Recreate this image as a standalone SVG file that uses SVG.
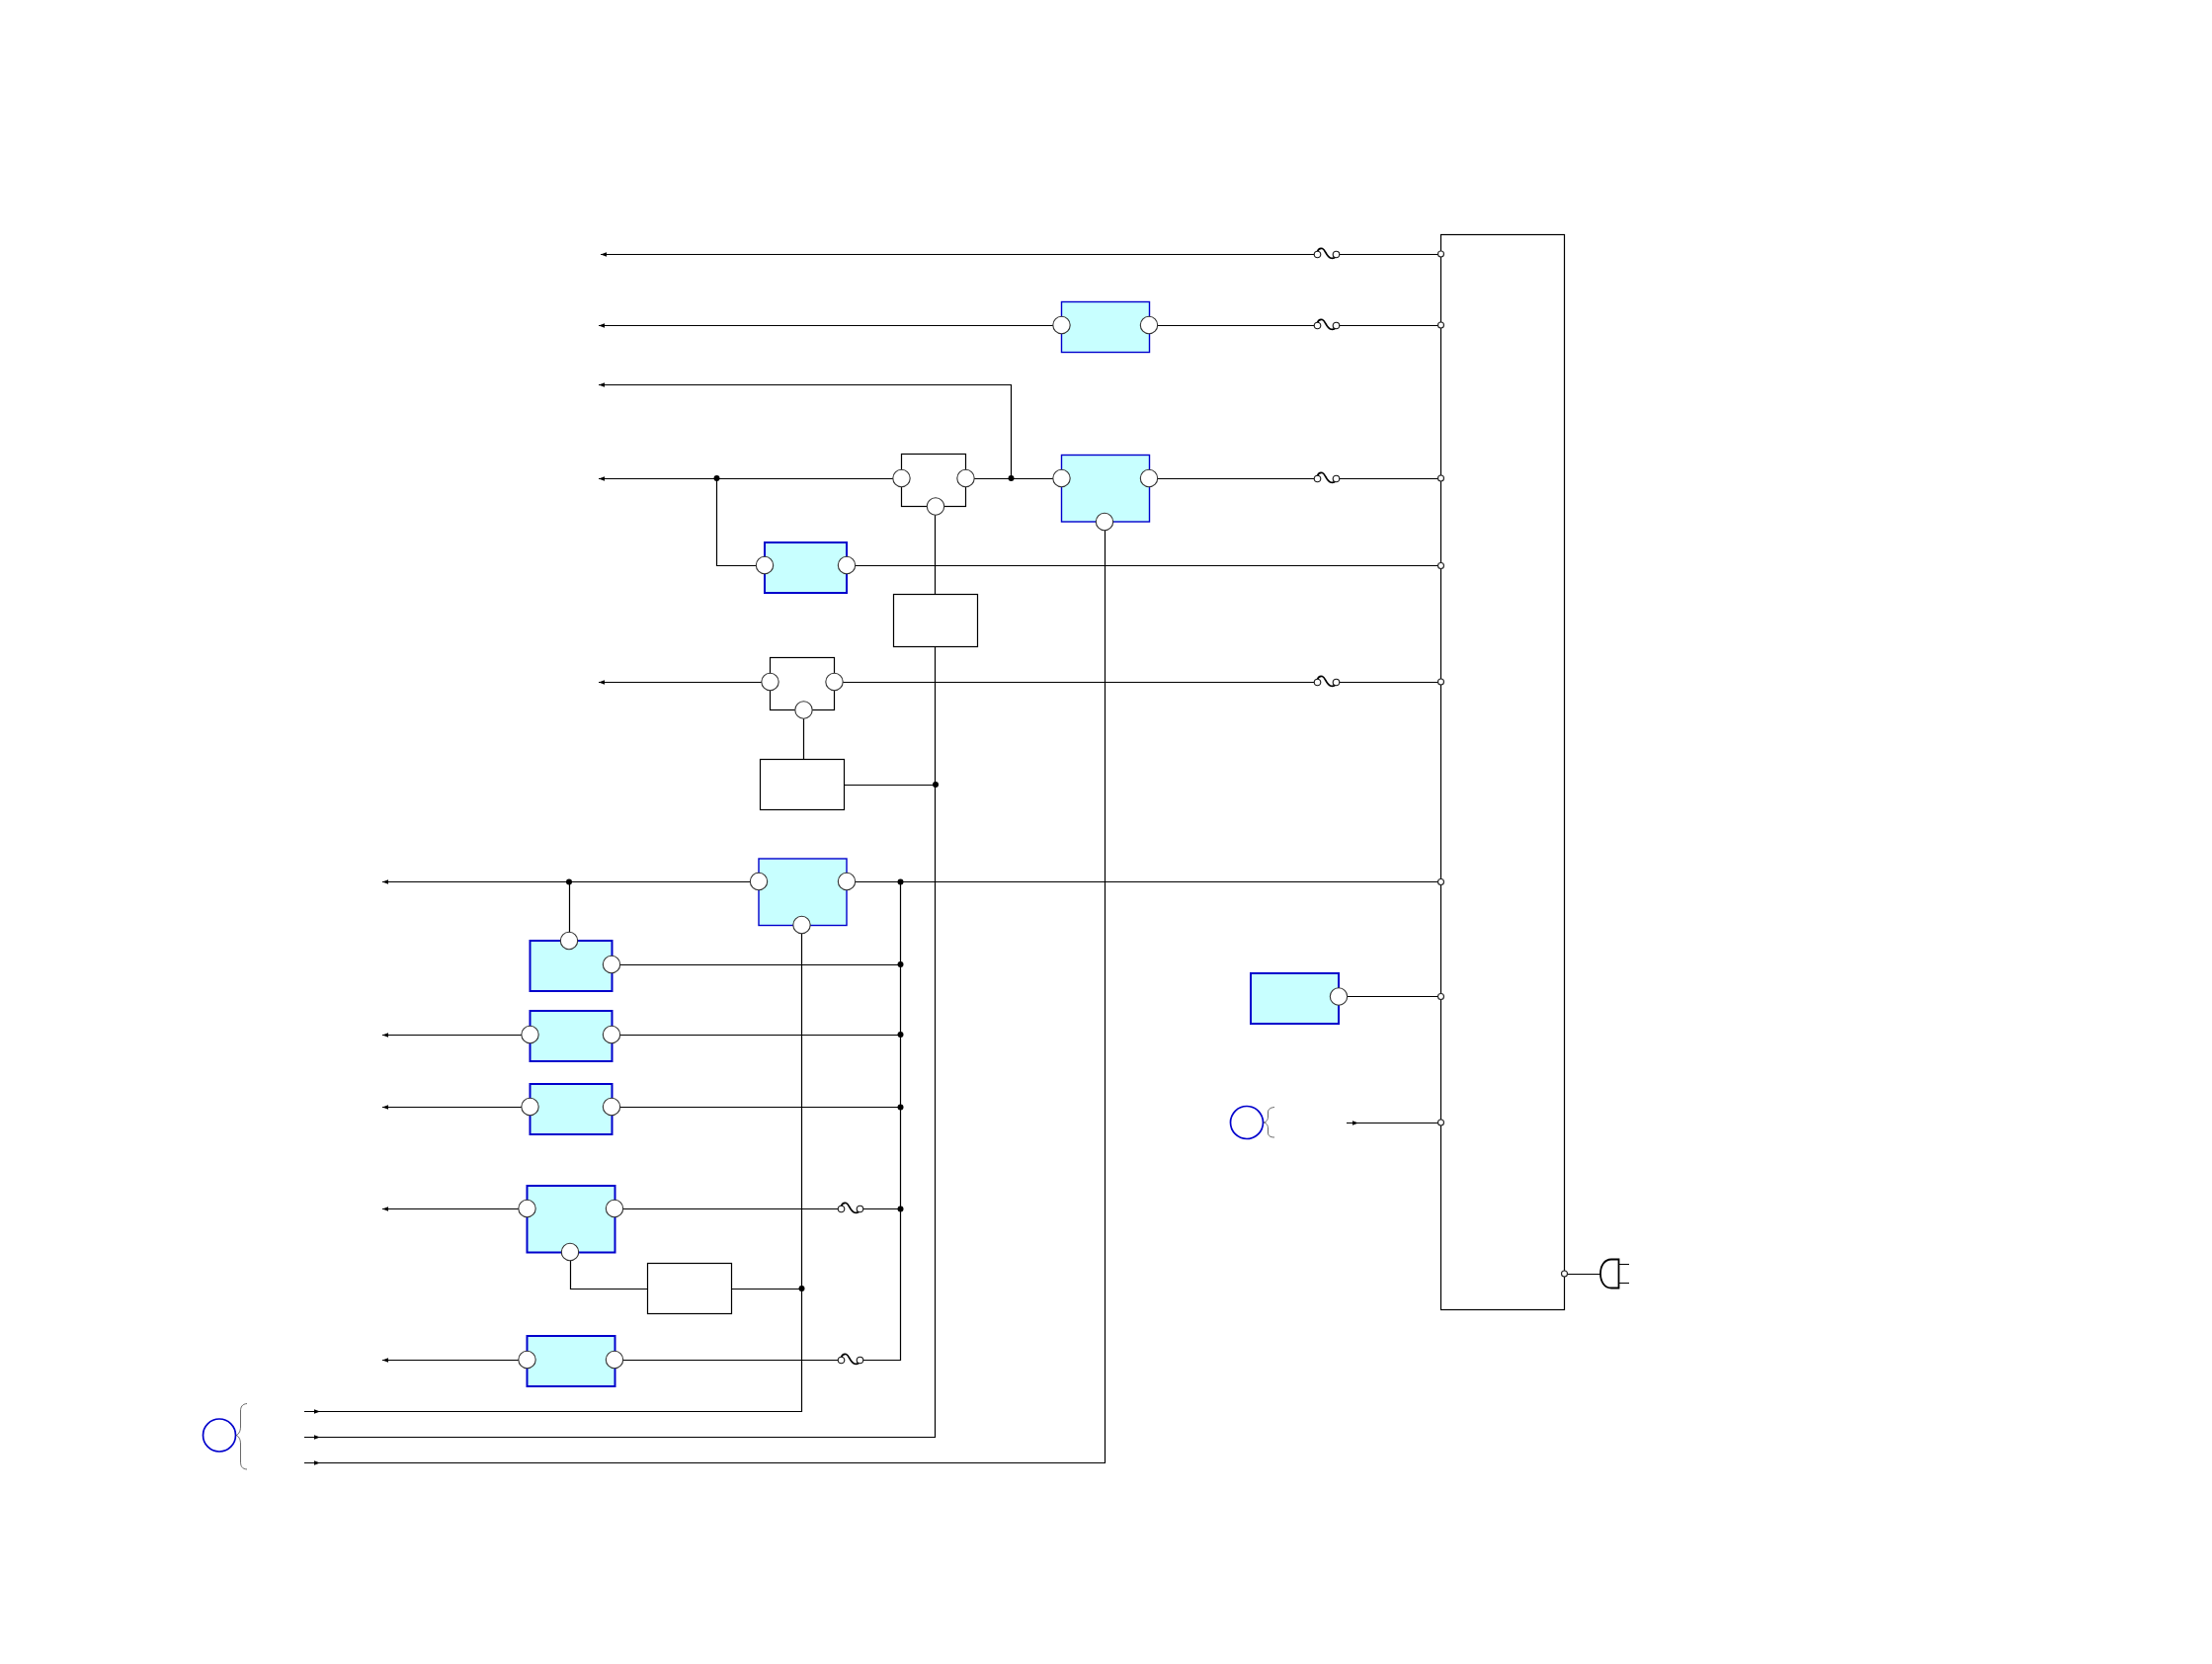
<svg xmlns="http://www.w3.org/2000/svg" width="2239" height="1684" viewBox="0 0 2239 1684">
<style>
.w{fill:none;stroke:#000;stroke-width:1.2}
.bx{fill:#fff;stroke:#000;stroke-width:1.2}
.reg{fill:#c8ffff;stroke:#0000cc;stroke-width:1.4}
.regt{fill:#c8ffff;stroke:#0000cc;stroke-width:2}
.pin{fill:#fff;stroke:#333;stroke-width:1.1}
.term{fill:#fff;stroke:#222;stroke-width:1.1}
.dot{fill:#000;stroke:none}
.ref{fill:none;stroke:#0000cc;stroke-width:1.7}
.br{fill:none;stroke:#444;stroke-width:.8}
.fz{fill:none;stroke:#000;stroke-width:1.8}
.fc{fill:#fff;stroke:#111;stroke-width:1.1}
</style>
<defs>
<path id="al" d="M0 0L6 -2.200V2.200Z" fill="#000"/>
<path id="ar" d="M0 -2.200L6 0L0 2.200Z" fill="#000"/>
<g id="fuse">
<path class="fz" d="M0 -3C1 -6 3 -6.500 5 -6C8 -5 9 2 13 3.500C15 4.200 17 4 18.500 2"/>
<circle class="fc" cx="0" cy="0" r="3.300"/>
<circle class="fc" cx="19" cy="0" r="3.300"/>
</g>
</defs>
<g id="connectors">
<path class="w" d="M608 257.500H1333M1352 257.500H1458.500"/>
<path class="w" d="M606 329.500H1075M1164 329.500H1333M1352 329.500H1458.500"/>
<path class="w" d="M606 389.500H1023.500V484.500"/>
<path class="w" d="M606 484.500H912M977 484.500H1074M1164 484.500H1333M1352 484.500H1458.500"/>
<path class="w" d="M725.500 484.500V572.500H774M857 572.500H1458.500"/>
<path class="w" d="M606 690.500H780M845 690.500H1333M1352 690.500H1458.500"/>
<path class="w" d="M946.500 512V1454.500H308"/>
<path class="w" d="M1118.500 528V1480.500H308"/>
<path class="w" d="M813.500 718V768M854 794.500H946.500"/>
<path class="w" d="M387 892.500H768M857 892.500H1458.500"/>
<path class="w" d="M576.500 892.500V952"/>
<path class="w" d="M619 976.500H911.500"/>
<path class="w" d="M387 1047.500H536M619 1047.500H911.500"/>
<path class="w" d="M387 1120.500H536M619 1120.500H911.500"/>
<path class="w" d="M387 1223.500H533M622 1223.500H851M870 1223.500H911.500"/>
<path class="w" d="M387 1376.500H533M622 1376.500H851M870 1376.500H911.500V892.500"/>
<path class="w" d="M811.500 936V1428.500H308"/>
<path class="w" d="M577.500 1267V1304.500H655M741 1304.500H811.500"/>
<path class="w" d="M1355 1008.500H1458.500"/>
<path class="w" d="M1363 1136.500H1458.500"/>
<path class="w" d="M1583.500 1289.500H1620"/>
<use href="#al" x="608" y="257.500"/>
<use href="#al" x="606" y="329.500"/>
<use href="#al" x="606" y="389.500"/>
<use href="#al" x="606" y="484.500"/>
<use href="#al" x="606" y="690.500"/>
<use href="#al" x="387" y="892.500"/>
<use href="#al" x="387" y="1047.500"/>
<use href="#al" x="387" y="1120.500"/>
<use href="#al" x="387" y="1223.500"/>
<use href="#al" x="387" y="1376.500"/>
<use href="#ar" x="318" y="1428.500"/>
<use href="#ar" x="318" y="1454.500"/>
<use href="#ar" x="318" y="1480.500"/>
<use href="#ar" x="1369" y="1136.500"/>
<circle class="dot" cx="725.500" cy="484" r="3"/>
<circle class="dot" cx="1023.500" cy="484" r="3"/>
<circle class="dot" cx="947" cy="794" r="3"/>
<circle class="dot" cx="576" cy="892.500" r="3"/>
<circle class="dot" cx="911.500" cy="892.500" r="3"/>
<circle class="dot" cx="911.500" cy="976" r="3"/>
<circle class="dot" cx="911.500" cy="1047" r="3"/>
<circle class="dot" cx="911.500" cy="1120.500" r="3"/>
<circle class="dot" cx="911.500" cy="1223.500" r="3"/>
<circle class="dot" cx="811.500" cy="1304" r="3"/>
</g>
<g id="fuses">
<use href="#fuse" x="1333.500" y="257.500"/>
<use href="#fuse" x="1333.500" y="329.500"/>
<use href="#fuse" x="1333.500" y="484.500"/>
<use href="#fuse" x="1333.500" y="690.500"/>
<use href="#fuse" x="851.500" y="1223.500"/>
<use href="#fuse" x="851.500" y="1376.500"/>
</g>
<g id="main-unit">
<rect class="w" x="1458.500" y="237.500" width="125" height="1088"/>
<circle class="term" cx="1458.500" cy="257" r="3"/>
<circle class="term" cx="1458.500" cy="329" r="3"/>
<circle class="term" cx="1458.500" cy="484" r="3"/>
<circle class="term" cx="1458.500" cy="572.500" r="3"/>
<circle class="term" cx="1458.500" cy="690" r="3"/>
<circle class="term" cx="1458.500" cy="892.500" r="3"/>
<circle class="term" cx="1458.500" cy="1008.500" r="3"/>
<circle class="term" cx="1458.500" cy="1136" r="3"/>
<circle class="term" cx="1583.500" cy="1289" r="3"/>
</g>
<g id="plug">
<path d="M1638.500 1274.500H1631C1624 1274.500 1620 1281 1620 1289C1620 1297 1624 1303.500 1631 1303.500H1638.500Z" fill="#fff" stroke="#000" stroke-width="1.800"/>
<path class="w" d="M1638.500 1279.500H1649M1638.500 1298.500H1649"/>
</g>
<g id="reg-1">
<rect class="reg" x="1074.500" y="305.500" width="89" height="51"/>
<circle class="pin" cx="1074.500" cy="329" r="8.700"/><circle class="pin" cx="1163" cy="329" r="8.700"/>
</g>
<g id="reg-2">
<rect class="reg" x="1074.500" y="460.500" width="89" height="67.500"/>
<circle class="pin" cx="1074.500" cy="484" r="8.700"/><circle class="pin" cx="1163" cy="484" r="8.700"/><circle class="pin" cx="1118" cy="528" r="8.700"/>
</g>
<g id="switch-1">
<rect class="bx" x="912.500" y="459.500" width="65" height="53"/>
<circle class="pin" cx="912.500" cy="484" r="8.700"/><circle class="pin" cx="977.500" cy="484" r="8.700"/><circle class="pin" cx="947" cy="512.500" r="8.700"/>
</g>
<g id="reg-3">
<rect class="regt" x="774" y="549" width="83" height="51"/>
<circle class="pin" cx="774" cy="572" r="8.700"/><circle class="pin" cx="857" cy="572" r="8.700"/>
</g>
<g id="box-1"><rect class="bx" x="904.500" y="601.500" width="85" height="53"/></g>
<g id="switch-2">
<rect class="bx" x="779.500" y="665.500" width="65" height="53"/>
<circle class="pin" cx="779.500" cy="690" r="8.700"/><circle class="pin" cx="844.500" cy="690" r="8.700"/><circle class="pin" cx="813.500" cy="718.500" r="8.700"/>
</g>
<g id="box-2"><rect class="bx" x="769.500" y="768.500" width="85" height="51"/></g>
<g id="reg-4">
<rect class="reg" x="768" y="869" width="89" height="67.500"/>
<circle class="pin" cx="768" cy="892" r="8.700"/><circle class="pin" cx="857" cy="892" r="8.700"/><circle class="pin" cx="811.500" cy="936" r="8.700"/>
</g>
<g id="reg-5">
<rect class="regt" x="536.500" y="952" width="83" height="51"/>
<circle class="pin" cx="576" cy="952" r="8.700"/><circle class="pin" cx="619" cy="976" r="8.700"/>
</g>
<g id="reg-6">
<rect class="regt" x="536.500" y="1023" width="83" height="51"/>
<circle class="pin" cx="536.500" cy="1047" r="8.700"/><circle class="pin" cx="619" cy="1047" r="8.700"/>
</g>
<g id="reg-7">
<rect class="regt" x="536.500" y="1097" width="83" height="51"/>
<circle class="pin" cx="536.500" cy="1120" r="8.700"/><circle class="pin" cx="619" cy="1120" r="8.700"/>
</g>
<g id="reg-8">
<rect class="regt" x="533.500" y="1200" width="89" height="67.500"/>
<circle class="pin" cx="533.500" cy="1223" r="8.700"/><circle class="pin" cx="622" cy="1223" r="8.700"/><circle class="pin" cx="577" cy="1267" r="8.700"/>
</g>
<g id="box-3"><rect class="bx" x="655.500" y="1278.500" width="85" height="51"/></g>
<g id="reg-9">
<rect class="regt" x="533.500" y="1352" width="89" height="51"/>
<circle class="pin" cx="533.500" cy="1376" r="8.700"/><circle class="pin" cx="622" cy="1376" r="8.700"/>
</g>
<g id="reg-10">
<rect class="regt" x="1266" y="985" width="89" height="51"/>
<circle class="pin" cx="1355" cy="1008.500" r="8.700"/>
</g>
<g id="ref-1">
<circle class="ref" cx="222" cy="1452.500" r="16.500"/>
<path class="br" d="M250 1420.500C245 1421 243.500 1424 243.500 1428V1444C243.500 1449 241 1452 239 1452.500C241 1453 243.500 1456 243.500 1461V1479C243.500 1484 245 1486.500 250 1487"/>
</g>
<g id="ref-2">
<circle class="ref" cx="1262" cy="1136" r="16.500"/>
<path class="br" d="M1290 1120.500C1285 1121 1283.500 1123 1283.500 1126V1130C1283.500 1134 1281 1136 1279 1136C1281 1136 1283.500 1138 1283.500 1142V1146C1283.500 1149 1285 1151 1290 1151"/>
</g>
</svg>
